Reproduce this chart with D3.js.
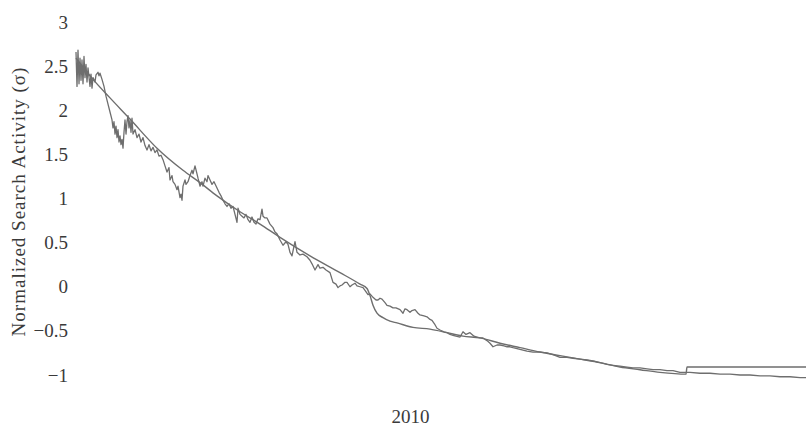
<!DOCTYPE html>
<html>
<head>
<meta charset="utf-8">
<script src="https://cdn.jsdelivr.net/npm/d3@7"></script>
<style>
  body { margin: 0; background: #fff; }
  svg text { font-family: "Liberation Serif", "Times New Roman", serif; fill: #3a3a3a; }
</style>
</head>
<body>
<div id="chart"></div>
<script>
// days since the start date, and normalized search activity (sigma)
const startDate = new Date(2009, 1, 1)
const totalDays = 730

const searchDays = [0, 1, 2, 3, 4, 5, 6, 7, 8, 9, 10, 11, 12, 14, 15, 16, 17, 19, 20, 22, 23, 24, 26, 28, 30, 32, 34, 36, 37, 38, 39, 40, 41, 42, 43, 44, 45, 46, 47, 48, 49, 50, 51, 52, 53, 54, 55, 56, 57, 59, 61, 63, 65, 67, 69, 71, 73, 75, 77, 79, 81, 83, 85, 87, 89, 91, 93, 94, 96, 97, 99, 101, 102, 104, 105, 106, 107, 109, 110, 112, 114, 116, 117, 119, 121, 122, 124, 126, 127, 129, 131, 132, 134, 136, 138, 141, 143, 145, 147, 149, 151, 153, 155, 157, 159, 161, 162, 164, 166, 168, 170, 172, 174, 176, 178, 180, 182, 184, 186, 187, 189, 191, 194, 197, 199, 201, 204, 207, 210, 212, 214, 216, 218, 219, 221, 224, 227, 231, 234, 236, 239, 242, 244, 247, 250, 254, 257, 260, 262, 264, 266, 269, 271, 274, 276, 279, 281, 284, 287, 289, 292, 294, 297, 300, 302, 304, 306, 309, 311, 314, 317, 320, 324, 327, 329, 331, 334, 336, 339, 342, 344, 348, 351, 354, 356, 359, 361, 364, 368, 371, 374, 377, 380, 384, 387, 390, 394, 398, 401, 404, 407, 411, 414, 417, 421, 424, 428, 431, 434, 437, 441, 444, 451, 457, 464, 471, 477, 484, 491, 497, 504, 511, 517, 524, 531, 537, 544, 551, 557, 564, 571, 577, 584, 591, 597, 604, 610, 614, 624, 634, 644, 654, 664, 674, 684, 694, 704, 714, 724, 730]
const searchValues = [2.66, 2.27, 2.68, 2.30, 2.59, 2.34, 2.57, 2.30, 2.61, 2.37, 2.52, 2.32, 2.48, 2.27, 2.41, 2.25, 2.37, 2.32, 2.40, 2.43, 2.39, 2.42, 2.35, 2.27, 2.16, 2.07, 1.98, 1.89, 1.80, 1.87, 1.73, 1.82, 1.69, 1.78, 1.64, 1.71, 1.61, 1.67, 1.57, 1.75, 1.89, 1.73, 1.87, 1.94, 1.80, 1.89, 1.75, 1.91, 1.73, 1.78, 1.69, 1.73, 1.64, 1.69, 1.60, 1.55, 1.61, 1.54, 1.58, 1.52, 1.55, 1.48, 1.49, 1.44, 1.37, 1.30, 1.35, 1.21, 1.26, 1.19, 1.16, 1.10, 1.14, 1.01, 1.05, 0.98, 1.14, 1.21, 1.16, 1.19, 1.26, 1.32, 1.28, 1.37, 1.28, 1.23, 1.14, 1.19, 1.14, 1.23, 1.19, 1.26, 1.21, 1.16, 1.19, 1.12, 1.07, 1.03, 0.98, 0.94, 0.91, 0.94, 0.89, 0.91, 0.82, 0.73, 0.89, 0.82, 0.80, 0.78, 0.82, 0.76, 0.73, 0.79, 0.73, 0.71, 0.77, 0.76, 0.88, 0.80, 0.78, 0.78, 0.71, 0.67, 0.62, 0.60, 0.53, 0.47, 0.51, 0.48, 0.39, 0.35, 0.46, 0.51, 0.39, 0.36, 0.37, 0.34, 0.30, 0.26, 0.19, 0.25, 0.21, 0.22, 0.19, 0.16, 0.05, 0.03, -0.01, 0.01, 0.02, 0.05, 0.05, 0.00, 0.02, 0.04, 0.01, 0.00, -0.01, -0.04, -0.09, -0.08, -0.12, -0.15, -0.15, -0.13, -0.14, -0.18, -0.21, -0.22, -0.24, -0.24, -0.26, -0.30, -0.25, -0.26, -0.29, -0.27, -0.26, -0.30, -0.32, -0.33, -0.34, -0.37, -0.38, -0.43, -0.47, -0.49, -0.51, -0.52, -0.54, -0.55, -0.56, -0.57, -0.51, -0.54, -0.52, -0.56, -0.57, -0.58, -0.58, -0.61, -0.64, -0.68, -0.66, -0.66, -0.67, -0.68, -0.68, -0.69, -0.70, -0.71, -0.73, -0.74, -0.74, -0.75, -0.77, -0.80, -0.80, -0.81, -0.82, -0.83, -0.84, -0.86, -0.88, -0.89, -0.90, -0.91, -0.92, -0.92, -0.93, -0.94, -0.94, -0.95, -0.95, -0.97, -0.97, -0.97, -0.98, -0.98, -0.99, -0.99, -1.00, -1.00, -1.01, -1.01, -1.02, -1.02, -1.03, -1.03]

// fitted curve
const fitDays = [0, 17, 34, 54, 81, 107, 124, 141, 164, 184, 204, 234, 264, 284, 291, 294, 297, 301, 307, 314, 321, 337, 354, 371, 387, 404, 424, 444, 464, 484, 504, 524, 544, 564, 584, 610, 611, 730]
const fitValues = [2.59, 2.35, 2.14, 1.90, 1.57, 1.32, 1.18, 1.03, 0.85, 0.71, 0.56, 0.35, 0.16, 0.03, -0.02, -0.10, -0.21, -0.30, -0.35, -0.39, -0.41, -0.46, -0.48, -0.52, -0.56, -0.58, -0.64, -0.69, -0.74, -0.78, -0.82, -0.86, -0.91, -0.94, -0.97, -0.99, -0.91, -0.91]

const yTicks = [-1, -0.5, 0, 0.5, 1, 1.5, 2, 2.5, 3]
const xTickYears = [2010]
const yTitle = 'Normalized Search Activity (σ)'

const width = 807, height = 431
const margin = {top: 22, right: 1, bottom: 56, left: 76}

const svg = d3.select('#chart').append('svg')
  .attr('width', width)
  .attr('height', height)

const x = d3.scaleTime()
  .domain([startDate, d3.timeDay.offset(startDate, totalDays)])
  .range([margin.left, width - margin.right])

const y = d3.scaleLinear()
  .domain([-1, 3])
  .range([height - margin.bottom, margin.top])

// axes without lines, labels only
const yAxis = svg.append('g')
  .attr('transform', 'translate(' + margin.left + ',0)')
  .call(d3.axisLeft(y).tickValues(yTicks).tickSize(0).tickPadding(8).tickFormat(d3.format('')))
yAxis.select('.domain').remove()
yAxis.selectAll('text').style('font-size', '19px').style('font-family', null)

const xAxis = svg.append('g')
  .attr('transform', 'translate(0,' + (height - margin.bottom + 25) + ')')
  .call(d3.axisBottom(x).tickValues(xTickYears.map((yr) => new Date(yr, 0, 1))).tickSize(0).tickPadding(10).tickFormat(d3.timeFormat('%Y')))
xAxis.select('.domain').remove()
xAxis.selectAll('text').style('font-size', '19px').style('font-family', null)

svg.append('text')
  .attr('transform', 'translate(25,' + ((margin.top + height - margin.bottom) / 2 + 3) + ') rotate(-90)')
  .attr('text-anchor', 'middle')
  .style('font-size', '19px')
  .style('letter-spacing', '1px')
  .text(yTitle)

const line = d3.line()
  .x((d) => x(d3.timeDay.offset(startDate, d[0])))
  .y((d) => y(d[1]))

const searchData = searchDays.map((d, i) => [d, searchValues[i]])
const fitData = fitDays.map((d, i) => [d, fitValues[i]])

svg.append('path')
  .datum(fitData)
  .attr('fill', 'none')
  .attr('stroke', '#6e6e6e')
  .attr('stroke-width', 1.4)
  .attr('d', line.curve(d3.curveMonotoneX))

svg.append('path')
  .datum(searchData)
  .attr('fill', 'none')
  .attr('stroke', '#6e6e6e')
  .attr('stroke-width', 1.3)
  .attr('stroke-linejoin', 'round')
  .attr('d', line.curve(d3.curveLinear))
</script>
</body>
</html>
